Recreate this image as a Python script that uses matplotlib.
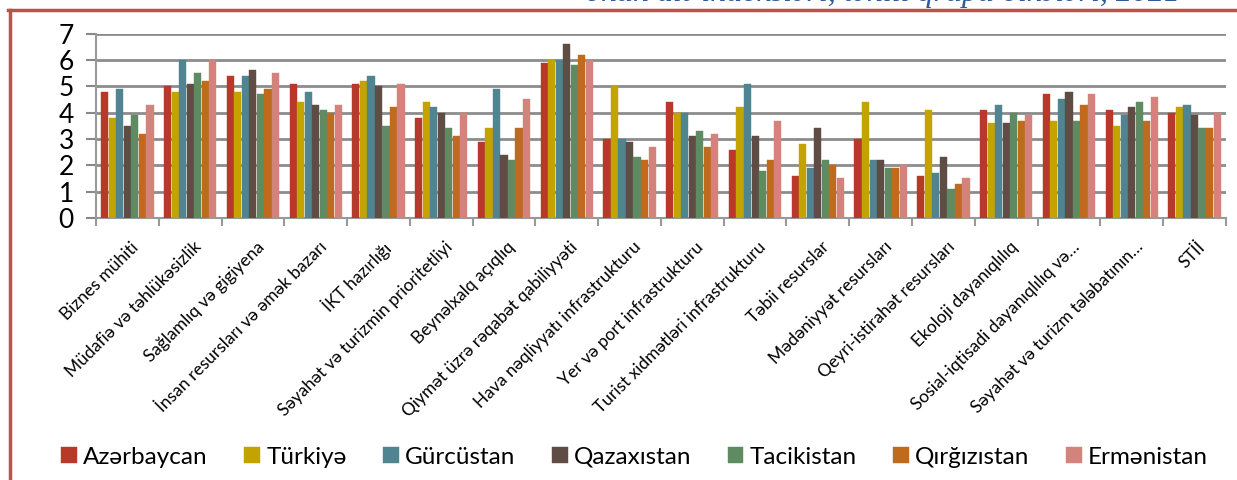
import numpy as np
import matplotlib.pyplot as plt
import matplotlib.transforms as mtransforms
from matplotlib.lines import Line2D

categories = [
    "Biznes mühiti", "Müdafiə və təhlükəsizlik", "Sağlamlıq və gigiyena",
    "İnsan resursları və əmək bazarı", "İKT hazırlığı",
    "Səyahət və turizmin prioritetliyi", "Beynəlxalq açıqlıq",
    "Qiymət üzrə rəqabət qabiliyyəti", "Hava nəqliyyatı infrastrukturu",
    "Yer və port infrastrukturu", "Turist xidmətləri infrastrukturu",
    "Təbii resurslar", "Mədəniyyət resursları", "Qeyri-istirahət resursları",
    "Ekoloji dayanıqlılıq", "Sosial-iqtisadi dayanıqlılıq və…",
    "Səyahət və turizm tələbatının…", "STİİ",
]

azerbaycan = [4.8, 5.0, 5.4, 5.1, 5.1, 3.8, 2.9, 5.9, 3.0, 4.4, 2.6, 1.6, 3.0, 1.6, 4.1, 4.7, 4.1, 4.0]
turkiye = [3.8, 4.8, 4.8, 4.4, 5.2, 4.4, 3.4, 6.0, 5.0, 4.0, 4.2, 2.8, 4.4, 4.1, 3.6, 3.7, 3.5, 4.2]
gurcustan = [4.9, 6.0, 5.4, 4.8, 5.4, 4.2, 4.9, 6.0, 3.0, 4.0, 5.1, 1.9, 2.2, 1.7, 4.3, 4.5, 3.9, 4.3]
qazaxistan = [3.5, 5.1, 5.6, 4.3, 5.0, 4.0, 2.4, 6.6, 2.9, 3.1, 3.1, 3.4, 2.2, 2.3, 3.6, 4.8, 4.2, 3.9]
tacikistan = [3.9, 5.5, 4.7, 4.1, 3.5, 3.4, 2.2, 5.8, 2.3, 3.3, 1.8, 2.2, 1.9, 1.1, 4.0, 3.7, 4.4, 3.4]
qirgizistan = [3.2, 5.2, 4.9, 4.0, 4.2, 3.1, 3.4, 6.2, 2.2, 2.7, 2.2, 2.0, 1.9, 1.3, 3.7, 4.3, 3.7, 3.4]
ermenistan = [4.3, 6.0, 5.5, 4.3, 5.1, 4.0, 4.5, 6.0, 2.7, 3.2, 3.7, 1.5, 2.0, 1.5, 3.9, 4.7, 4.6, 4.0]

series_names = ["Azərbaycan", "Türkiyə", "Gürcüstan", "Qazaxıstan",
                "Tacikistan", "Qırğızıstan", "Ermənistan"]
series = [azerbaycan, turkiye, gurcustan, qazaxistan, tacikistan, qirgizistan, ermenistan]
colors = ["#B8392A", "#C2A300", "#4F8490", "#5E4C45", "#5F8B62", "#BF6A1C", "#D4837C"]

plt.rcParams['font.family'] = ['Lato', 'DejaVu Sans']

fig = plt.figure(figsize=(12.37, 4.8), dpi=100)
ax = fig.add_axes([0.0776, 0.5458, 0.9134, 0.3842])

x = np.arange(len(categories))
bar_w = 0.12
offsets = (np.arange(len(series)) - 3) * bar_w
for vals, name, col, off in zip(series, series_names, colors, offsets):
    ax.bar(x + off, vals, width=bar_w * 0.95, color=col, edgecolor=col,
           linewidth=0.3, label=name, zorder=3)

ax.set_xlim(-0.5, len(categories) - 0.5)
ax.set_ylim(0, 7)
ax.set_yticks(range(8))
ax.tick_params(axis='y', labelsize=19, length=7, width=1.5, color='#888888', pad=9)
ax.yaxis.grid(True, color='#8c8c8c', linewidth=2, zorder=0)

ax.set_xticks(np.arange(len(categories) + 1) - 0.5, minor=False)
ax.set_xticklabels([])
ax.tick_params(axis='x', length=6, width=1.5, color='#999999')
ax.set_xticks(x, minor=True)
ax.set_xticklabels(categories, minor=True, rotation=45, ha='right', va='top',
                   rotation_mode='anchor', fontsize=12.5)
ax.tick_params(axis='x', which='minor', length=0, pad=15)
shift = mtransforms.ScaledTranslation(3 / 100, 0, fig.dpi_scale_trans)
for lab in ax.get_xticklabels(minor=True):
    lab.set_transform(lab.get_transform() + shift)

for s in ['top', 'right']:
    ax.spines[s].set_visible(False)
for s in ['left', 'bottom']:
    ax.spines[s].set_color('#999999')
    ax.spines[s].set_linewidth(1.5)

fig.legend(loc='lower center', bbox_to_anchor=(0.513, -0.02), ncol=7, frameon=False,
           fontsize=17.5, handlelength=0.65, handleheight=0.65, columnspacing=1.5,
           handletextpad=0.25)

# page frame and cut title above it
fig.add_artist(Line2D([8 / 1237, 1], [1 - 10 / 480] * 2, color='#C0504D', linewidth=2.5))
fig.add_artist(Line2D([10 / 1237] * 2, [0, 1 - 10 / 480], color='#C0504D', linewidth=2.5))
fig.text(1180 / 1237, 1 - 1 / 480, "onun alt-indeksləri, təhlil qrupu ölkələri, 2021",
         ha='right', va='baseline', fontsize=23, style='italic', color='#2E5C9A',
         family=['Liberation Serif', 'DejaVu Serif'])

fig.savefig("out.png", dpi=100)
